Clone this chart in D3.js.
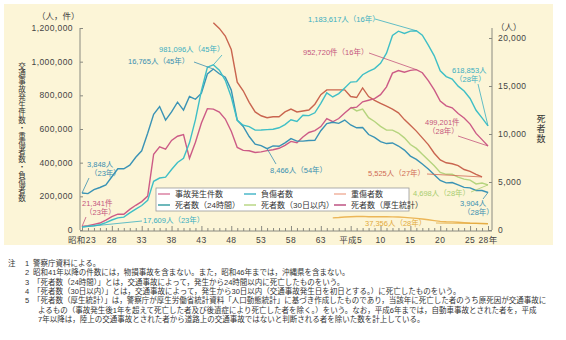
<!DOCTYPE html>
<html>
<head>
<meta charset="utf-8">
<script src="https://cdn.jsdelivr.net/npm/d3@7"></script>
<style>
  body { margin: 0; background: #fff; }
  text { font-family: "Noto Sans CJK JP", "Noto Sans", sans-serif; }
  text.small { font-family: "Liberation Sans", "Noto Sans CJK JP", sans-serif; }
</style>
</head>
<body>
<div id="grafica"></div>
<script>
// data

// 事故発生件数 1948-2016
var accidents = [21341, 25113, 33212, 41423, 58487, 80019, 93869, 93981, 122691, 146833,
  168799, 201292, 449917, 493693, 479825, 531966, 557183, 567286, 425944, 521481,
  635056, 720880, 718080, 700290, 659283, 586713, 490452, 472938, 471041, 460649,
  464037, 471573, 476677, 485578, 502261, 526362, 518642, 552788, 579190, 590723,
  614481, 661363, 643097, 662392, 695346, 724675, 729461, 761794, 771085, 780401,
  803882, 850371, 931950, 947253, 936950, 948281, 952720, 934346, 887267, 832704,
  766394, 737637, 725924, 692084, 665157, 629033, 573842, 536899, 499201];

// 負傷者数 1948-2016
var injured = [17609, 22242, 25450, 31274, 43321, 59280, 72390, 76501, 102072, 124530,
  145432, 175951, 289156, 308697, 313813, 359089, 401117, 425666, 517775, 655377,
  828071, 967000, 981096, 949689, 889198, 789948, 651420, 622467, 613957, 593211,
  594116, 596282, 598719, 607346, 626192, 654822, 644321, 681346, 679578, 696346,
  752845, 814832, 790295, 810245, 844003, 878633, 881723, 922677, 942204, 958925,
  990675, 1050399, 1155697, 1181039, 1168029, 1181681, 1183617, 1157113, 1098564, 1034652,
  945703, 911215, 896297, 854613, 825396, 781492, 711374, 666023, 618853];

// 死者数（24時間）1948-2016
var deaths24 = [3848, 3790, 4202, 4429, 4696, 5544, 6374, 6379, 6751, 7575,
  8248, 10079, 12055, 12865, 11445, 12301, 13318, 12484, 13904, 13618,
  14256, 16257, 16765, 16278, 15918, 14574, 11432, 10792, 9734, 8945,
  8783, 8466, 8760, 8719, 9073, 9520, 9262, 9261, 9317, 9347,
  10344, 11086, 11227, 11109, 11452, 10942, 10649, 10679, 9942, 9640,
  9211, 9006, 9066, 8747, 8326, 7702, 7358, 6871, 6352, 5744,
  5155, 4914, 4948, 4691, 4438, 4388, 4113, 4117, 3904];

// 重傷者数 1990-2016
var serious = [72000, 74000, 77000, 79000, 80000, 81000, 79000, 79000, 79000, 79000,
  78000, 77000, 75000, 72000, 69000, 65000, 61000, 56000, 51000, 49000,
  48000, 46000, 44000, 41500, 40000, 38900, 37356];

// 死者数（30日以内）1993-2016
var deaths30 = [12800, 12400, 12600, 11700, 11300, 10800, 10400, 10400, 10100, 9600,
  8900, 8500, 7900, 7300, 6700, 6000, 5800, 5800, 5500, 5300,
  5200, 4800, 4900, 4698];

// 死者数（厚生統計）1970-2015
var deathsVital = [21600, 21000, 20200, 18800, 15400, 14500, 13300, 12300, 11900, 11700,
  11800, 11800, 12300, 12600, 12300, 12400, 12500, 13100, 14100, 14600,
  14600, 14600, 14600, 13900, 13800, 14800, 13900, 13500, 13200, 12900,
  12600, 12200, 11500, 10900, 10300, 9600, 8900, 8000, 7300, 7000,
  6900, 6700, 6300, 6100, 5800, 5525];

var leftTicks = [0, 200000, 400000, 600000, 800000, 1000000, 1200000];
var rightTicks = [0, 5000, 10000, 15000, 20000];
var xTickYears = [1948, 1953, 1958, 1963, 1968, 1973, 1978, 1983, 1988, 1993, 1998, 2003, 2008, 2013, 2016];
var xTickLabels = ["昭和23", "28", "33", "38", "43", "48", "53", "58", "63", "平成5", "10", "15", "20", "25", "28年"];

var notes = [
  ["注", "1", "警察庁資料による。"],
  ["", "2", "昭和41年以降の件数には，物損事故を含まない。また，昭和46年までは，沖縄県を含まない。"],
  ["", "3", "「死者数（24時間）」とは，交通事故によって，発生から24時間以内に死亡したものをいう。"],
  ["", "4", "「死者数（30日以内）」とは，交通事故によって，発生から30日以内（交通事故発生日を初日とする。）に死亡したものをいう。"],
  ["", "5", "「死者数（厚生統計）」は，警察庁が厚生労働省統計資料「人口動態統計」に基づき作成したものであり，当該年に死亡した者のうち原死因が交通事故に"],
  ["", "", "よるもの（事故発生後1年を超えて死亡した者及び後遺症により死亡した者を除く。）をいう。なお，平成6年までは，自動車事故とされた者を，平成"],
  ["", "", "7年以降は，陸上の交通事故とされた者から道路上の交通事故ではないと判断される者を除いた数を計上している。"]
];

var width = 566, height = 340;

var svg = d3.select("#grafica")
  .append("svg")
  .attr("width", width)
  .attr("height", height);

// yellow panel
svg.append("rect")
  .attr("x", 4).attr("y", 4)
  .attr("width", 549).attr("height", 241)
  .attr("fill", "#fcf5d7");

// scales
var x = d3.scaleLinear().domain([1948, 2016]).range([82, 488]);
var yL = d3.scaleLinear().domain([0, 1200000]).range([230, 28]);
var yR = d3.scaleLinear().domain([0, 20000]).range([230, 38]);

var axisColor = "#8a8a80";
var textColor = "#444";

// left axis
var left = svg.append("g")
  .attr("transform", "translate(80,0)")
  .call(d3.axisRight(yL).tickValues(leftTicks).tickSize(3).tickFormat(""));
left.select(".domain").attr("d", "M0,28V230").attr("stroke", axisColor);
left.selectAll(".tick line").attr("stroke", axisColor);

svg.selectAll(".ltick")
  .data(leftTicks)
  .join("text")
  .attr("class", "small")
  .attr("x", 73)
  .attr("y", function(d) { return yL(d) + 3; })
  .attr("text-anchor", "end")
  .attr("font-size", "8.5px")
  .style("letter-spacing", "0.4px")
  .attr("fill", textColor)
  .text(function(d) { return d3.format(",")(d); });

// right axis
var right = svg.append("g")
  .attr("transform", "translate(492,0)")
  .call(d3.axisLeft(yR).tickValues(rightTicks).tickSize(3).tickFormat(""));
right.select(".domain").attr("d", "M0,28V230").attr("stroke", axisColor);
right.selectAll(".tick line").attr("stroke", axisColor);

svg.selectAll(".rtick")
  .data(rightTicks)
  .join("text")
  .attr("class", "small")
  .attr("x", 498)
  .attr("y", function(d) { return yR(d) + 3; })
  .attr("font-size", "8.5px")
  .style("letter-spacing", "0.4px")
  .attr("fill", textColor)
  .text(function(d) { return d3.format(",")(d); });

// x axis with yearly ticks
var xa = svg.append("g")
  .attr("transform", "translate(0,231)")
  .call(d3.axisTop(x).tickValues(d3.range(1948, 2017)).tickSize(3).tickFormat(""));
xa.select(".domain").attr("d", "M80,0H492").attr("stroke", axisColor);
xa.selectAll(".tick line").attr("stroke", axisColor)
  .attr("y2", function(d) { return xTickYears.indexOf(d) >= 0 ? -5 : -3; });

svg.selectAll(".xtick")
  .data(xTickYears)
  .join("text")
  .attr("class", "small")
  .attr("x", function(d) { return x(d); })
  .attr("y", 243)
  .attr("text-anchor", "middle")
  .attr("font-size", "8.5px")
  .style("letter-spacing", "0.4px")
  .attr("fill", textColor)
  .text(function(d, i) { return xTickLabels[i]; });

// units and axis titles
svg.append("text").attr("x", 37).attr("y", 19).attr("font-size", "8.5px").attr("fill", textColor).text("（人，件）");
svg.append("text").attr("x", 496).attr("y", 30).attr("font-size", "8.5px").attr("fill", textColor).text("（人）");

// vertical titles
svg.append("text")
  .attr("x", 22).attr("y", 62)
  .attr("writing-mode", "vertical-rl")
  .style("letter-spacing", "0.3px")
  .attr("font-size", "7.5px")
  .attr("fill", "#333")
  .text("交通事故発生件数・重傷者数・負傷者数");

svg.append("text")
  .attr("x", 541).attr("y", 114)
  .attr("writing-mode", "vertical-rl")
  .style("letter-spacing", "1px")
  .attr("font-size", "9px")
  .attr("fill", "#333")
  .text("死者数");

// lines
function series(values, start) {
  return values.map(function(v, i) { return { year: start + i, value: v }; });
}

var lines = [
  { data: series(deathsVital, 1970), y: yR, color: "#c9654f" },
  { data: series(serious, 1990), y: yL, color: "#ecb657" },
  { data: series(deaths30, 1993), y: yR, color: "#b5d47e" },
  { data: series(accidents, 1948), y: yL, color: "#cc5b86" },
  { data: series(deaths24, 1948), y: yR, color: "#3a93b5" },
  { data: series(injured, 1948), y: yL, color: "#3fbfc6" }
];

lines.forEach(function(s) {
  svg.append("path")
    .datum(s.data)
    .attr("fill", "none")
    .attr("stroke", s.color)
    .attr("stroke-width", 1.4)
    .attr("d", d3.line()
      .x(function(d) { return x(d.year); })
      .y(function(d) { return s.y(d.value); }));
});

// legend
var legend = svg.append("g");
legend.append("rect")
  .attr("x", 156).attr("y", 188)
  .attr("width", 253).attr("height", 23)
  .attr("fill", "#fff")
  .attr("stroke", "#999")
  .attr("stroke-width", 0.8);

var legendItems = [
  { label: "事故発生件数", color: "#d9799c", col: 0, row: 0 },
  { label: "負傷者数", color: "#3fb3c6", col: 1, row: 0 },
  { label: "重傷者数", color: "#f0ae98", col: 2, row: 0 },
  { label: "死者数（24時間）", color: "#2f9a9e", col: 0, row: 1 },
  { label: "死者数（30日以内）", color: "#b5d47e", col: 1, row: 1 },
  { label: "死者数（厚生統計）", color: "#b9477a", col: 2, row: 1 }
];
var colX = [158, 244, 334];

legendItems.forEach(function(d) {
  var lx = colX[d.col], ly = 194 + d.row * 11;
  legend.append("line")
    .attr("x1", lx).attr("x2", lx + 12)
    .attr("y1", ly).attr("y2", ly)
    .attr("stroke", d.color).attr("stroke-width", 1.4);
  legend.append("text")
    .attr("class", "small")
    .attr("x", lx + 17).attr("y", ly + 3)
    .attr("font-size", "8px")
    .attr("fill", "#333")
    .text(d.label);
});

// annotations with leader lines to the data points
var annotations = [
  { text: ["981,096人（45年）"], tx: 159, ty: 52, color: "#3aaec0", from: [222, 55], year: 1970, value: 981096, y: yL },
  { text: ["16,765人（45年）"], tx: 128, ty: 64, color: "#3a8fb0", from: [194, 62], year: 1970, value: 16765, y: yR },
  { text: ["1,183,617人（16年）"], tx: 308, ty: 22, color: "#3aaec0", from: [375, 19], year: 2004, value: 1183617, y: yL },
  { text: ["952,720件（16年）"], tx: 303, ty: 55, color: "#c4557e", from: [369, 53], year: 2004, value: 952720, y: yL },
  { text: ["618,853人", "（28年）"], tx: 452, ty: 73, color: "#3aaec0", from: [478, 84], year: 2016, value: 618853, y: yL },
  { text: ["499,201件", "（28年）"], tx: 425, ty: 125, color: "#c4557e", from: [458, 136], year: 2016, value: 499201, y: yL },
  { text: ["5,525人（27年）"], tx: 368, ty: 176, color: "#d06a55", from: [427, 174], year: 2015, value: 5525, y: yR },
  { text: ["4,698人（28年）"], tx: 413, ty: 196, color: "#a8cc70", from: [471, 192], year: 2016, value: 4698, y: yR },
  { text: ["3,904人", "（28年）"], tx: 460, ty: 206, color: "#3a8fb0", from: [483, 199], year: 2016, value: 3904, y: yR },
  { text: ["37,356人（28年）"], tx: 365, ty: 226, color: "#e2a93c", from: [436, 223], year: 2016, value: 37356, y: yL },
  { text: ["8,466人（54年）"], tx: 270, ty: 173, color: "#3a8fb0", from: [276, 164], year: 1979, value: 8466, y: yR },
  { text: ["3,848人", "（23年）"], tx: 87, ty: 167, color: "#3a8fb0", from: [89, 178], year: 1948, value: 3848, y: yR },
  { text: ["21,341件", "（23年）"], tx: 82, ty: 206, color: "#c4557e", from: [86, 217], year: 1948, value: 21341, y: yL },
  { text: ["17,609人（23年）"], tx: 143, ty: 223, color: "#3aaec0", from: [142, 221], year: 1948, value: 17609, y: yL }
];

annotations.forEach(function(a) {
  svg.append("line")
    .attr("x1", a.from[0]).attr("y1", a.from[1])
    .attr("x2", x(a.year)).attr("y2", a.y(a.value))
    .attr("stroke", a.color)
    .attr("stroke-width", 0.8);
  var t = svg.append("text")
    .attr("class", "small")
    .attr("font-size", "7.5px")
    .attr("fill", a.color);
  a.text.forEach(function(s, i) {
    t.append("tspan")
      .attr("x", a.tx + (i > 0 ? 3 : 0))
      .attr("y", a.ty + i * 9)
      .text(s);
  });
});

// notes under the chart
var noteText = svg.append("text")
  .attr("class", "small")
  .attr("font-size", "7.5px")
  .attr("fill", "#333");
notes.forEach(function(n, i) {
  var yy = 266 + i * 9.3;
  if (n[0]) noteText.append("tspan").attr("x", 8).attr("y", yy).text(n[0]);
  if (n[1]) noteText.append("tspan").attr("x", 25).attr("y", yy).text(n[1]);
  noteText.append("tspan").attr("x", n[1] === "" ? 38 : 33).attr("y", yy).text(n[2]);
});
</script>
</body>
</html>
